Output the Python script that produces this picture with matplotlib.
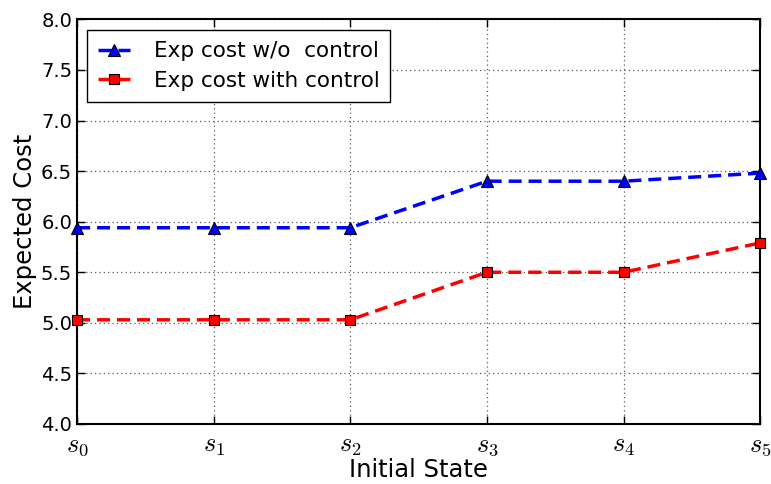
import matplotlib
matplotlib.use('Agg')
import matplotlib.pyplot as plt
import numpy as np

states = [r'$s_0$', r'$s_1$', r'$s_2$', r'$s_3$', r'$s_4$', r'$s_5$']
cost_no_ctrl = [5.94, 5.94, 5.94, 6.40, 6.40, 6.48]
cost_ctrl = [5.03, 5.03, 5.03, 5.50, 5.50, 5.79]

plt.rcParams['mathtext.fontset'] = 'cm'
plt.rcParams['font.family'] = 'DejaVu Sans'

x = np.arange(len(states))

fig, ax = plt.subplots(figsize=(7.71, 4.84), dpi=100)
fig.subplots_adjust(left=0.1, right=0.986, top=0.96, bottom=0.124)

ax.plot(x, cost_no_ctrl, '--', color='blue', linewidth=2.5, dashes=(3.75, 2),
        marker='^', markersize=8, markerfacecolor='blue', markeredgecolor='k',
        markeredgewidth=0.8, label='Exp cost w/o  control', clip_on=False, zorder=3)
ax.plot(x, cost_ctrl, '--', color='red', linewidth=2.5, dashes=(3.75, 2),
        marker='s', markersize=7, markerfacecolor='red', markeredgecolor='k',
        markeredgewidth=0.8, label='Exp cost with control', clip_on=False, zorder=3)

ax.set_xlim(0, 5)
ax.set_ylim(4.0, 8.0)
ax.set_xticks(x)
ax.set_xticklabels(states, fontsize=19)
yt = np.arange(4.0, 8.01, 0.5)
ax.set_yticks(yt)
ax.set_yticklabels([f'{v:.1f}' for v in yt], fontsize=14)
ax.tick_params(direction='in', top=True, right=True, length=6, width=1)
ax.tick_params(axis='x', pad=6)
ax.grid(True, linestyle=(0, (1, 2.5)), color='0.35', linewidth=0.9)
for s in ax.spines.values():
    s.set_linewidth(1.5)

ax.set_xlabel('Initial State', fontsize=17.5, labelpad=0)
ax.set_ylabel('Expected Cost', fontsize=17.5, labelpad=3)

leg = ax.legend(loc='upper left', fontsize=15.5, fancybox=False, framealpha=1,
                edgecolor='k', handlelength=1.5, handletextpad=1.1,
                borderpad=0.5, labelspacing=0.45, borderaxespad=0,
                bbox_to_anchor=(0.0146, 0.973))
leg.get_frame().set_linewidth(1.0)

plt.savefig('out.png', dpi=100)
